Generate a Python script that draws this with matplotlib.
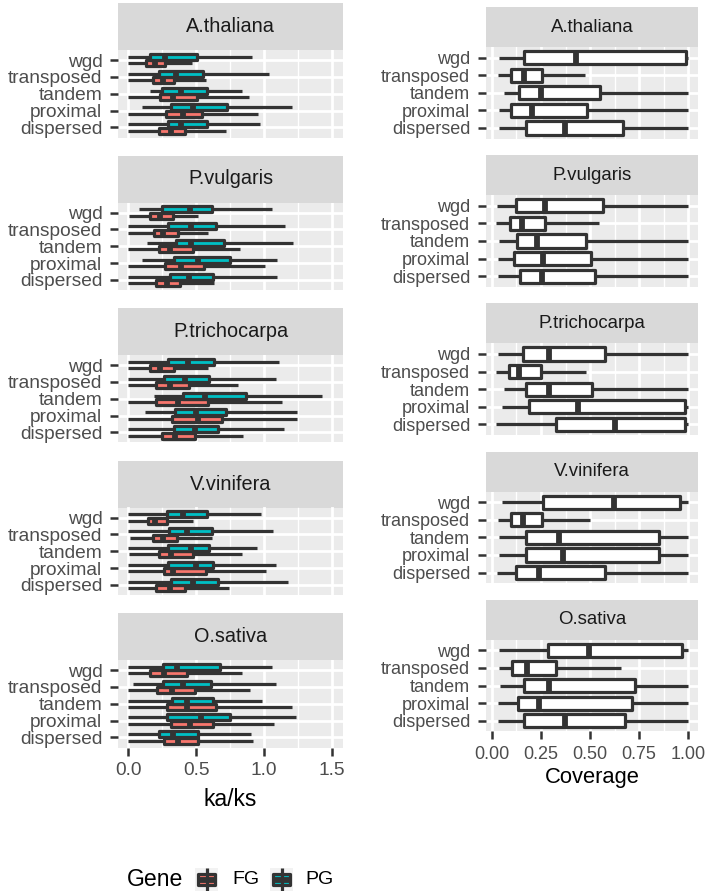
import matplotlib
matplotlib.use('Agg')
import matplotlib.pyplot as plt
from matplotlib.patches import Rectangle
from matplotlib.lines import Line2D
from matplotlib.ticker import MultipleLocator, FixedLocator

plt.rcParams['font.family'] = ['Liberation Sans', 'DejaVu Sans']

W, H = 708, 894
species = ['A.thaliana', 'P.vulgaris', 'P.trichocarpa', 'V.vinifera', 'O.sativa']
categories = ['wgd', 'transposed', 'tandem', 'proximal', 'dispersed']  # top to bottom
genes = ['FG', 'PG']
gene_colors = {'FG': '#F8766D', 'PG': '#00BFC4'}

# ---- ka/ks, PG (per species, categories top->bottom) ----
kk_pg_lo = [[0, 0, 0.159, 0.098, 0], [0.08, 0, 0.139, 0.098, 0], [0, 0, 0.188, 0.122, 0],
            [0, 0, 0, 0, 0], [0, 0.032, 0, 0, 0]]
kk_pg_q1 = [[0.161, 0.229, 0.249, 0.315, 0.29], [0.246, 0.29, 0.351, 0.339, 0.31],
            [0.29, 0.266, 0.4, 0.346, 0.334], [0.285, 0.302, 0.29, 0.29, 0.315],
            [0.259, 0.259, 0.32, 0.283, 0.229]]
kk_pg_med = [[0.268, 0.349, 0.39, 0.48, 0.39], [0.451, 0.463, 0.459, 0.517, 0.444],
             [0.44, 0.415, 0.563, 0.498, 0.49], [0.402, 0.432, 0.459, 0.5, 0.473],
             [0.361, 0.405, 0.429, 0.532, 0.332]]
kk_pg_q3 = [[0.507, 0.551, 0.576, 0.729, 0.58], [0.62, 0.644, 0.705, 0.746, 0.625],
            [0.632, 0.595, 0.868, 0.717, 0.66], [0.583, 0.62, 0.595, 0.625, 0.66],
            [0.673, 0.612, 0.624, 0.746, 0.51]]
kk_pg_hi = [[0.907, 1.037, 0.834, 1.207, 0.968], [1.056, 1.151, 1.212, 1.093, 1.098],
            [1.11, 1.09, 1.427, 1.239, 1.146], [0.976, 1.068, 0.944, 1.085, 1.176],
            [1.056, 1.085, 0.983, 1.232, 0.902]]

# ---- ka/ks, FG ----
kk_fg_lo = [[0, 0, 0, 0, 0], [0.007, 0, 0, 0, 0], [0, 0, 0, 0, 0],
            [0, 0.012, 0.007, 0, 0], [0, 0, 0, 0, 0]]
kk_fg_q1 = [[0.13, 0.185, 0.234, 0.278, 0.229], [0.163, 0.188, 0.229, 0.273, 0.205],
            [0.163, 0.205, 0.205, 0.32, 0.246], [0.144, 0.18, 0.224, 0.261, 0.205],
            [0.163, 0.215, 0.283, 0.315, 0.266]]
kk_fg_med = [[0.195, 0.256, 0.329, 0.405, 0.317], [0.232, 0.256, 0.31, 0.39, 0.285],
             [0.237, 0.31, 0.368, 0.51, 0.344], [0.195, 0.256, 0.317, 0.329, 0.305],
             [0.261, 0.322, 0.434, 0.454, 0.368]]
kk_fg_q3 = [[0.27, 0.34, 0.507, 0.546, 0.42], [0.33, 0.37, 0.48, 0.56, 0.38],
            [0.34, 0.45, 0.588, 0.693, 0.49], [0.285, 0.36, 0.48, 0.57, 0.42],
            [0.43, 0.49, 0.649, 0.624, 0.51]]
kk_fg_hi = [[0.47, 0.573, 0.89, 0.956, 0.72], [0.512, 0.585, 0.822, 1.007, 0.634],
            [0.585, 0.81, 1.134, 1.244, 0.846], [0.48, 0.615, 0.834, 1.017, 0.744],
            [0.834, 0.898, 1.207, 1.073, 0.92]]

# ---- coverage ----
cov_lo = [[0.037, 0.029, 0.06, 0.037, 0.037], [0.026, 0.022, 0.037, 0.031, 0.031],
          [0.031, 0.02, 0.06, 0.051, 0.022], [0.051, 0.031, 0.037, 0.037, 0.026],
          [0.034, 0.034, 0.039, 0.031, 0.031]]
cov_q1 = [[0.163, 0.097, 0.138, 0.095, 0.172], [0.122, 0.092, 0.126, 0.114, 0.143],
          [0.16, 0.088, 0.173, 0.189, 0.325], [0.262, 0.095, 0.172, 0.172, 0.121],
          [0.284, 0.104, 0.163, 0.134, 0.165]]
cov_med = [[0.43, 0.162, 0.252, 0.204, 0.374], [0.269, 0.153, 0.231, 0.259, 0.255],
           [0.289, 0.139, 0.289, 0.437, 0.629], [0.621, 0.156, 0.34, 0.362, 0.238],
           [0.493, 0.179, 0.293, 0.241, 0.371]]
cov_q3 = [[0.988, 0.253, 0.549, 0.486, 0.668], [0.566, 0.27, 0.478, 0.507, 0.525],
          [0.575, 0.252, 0.508, 0.985, 0.985], [0.957, 0.253, 0.852, 0.852, 0.577],
          [0.968, 0.325, 0.728, 0.716, 0.678]]
cov_hi = [[1, 0.473, 1, 1, 1], [1, 0.544, 1, 1, 1], [1, 0.481, 1, 1, 1],
          [1, 0.498, 1, 1, 1], [1, 0.66, 1, 1, 1]]

kk_ticks = [0.0, 0.5, 1.0, 1.5]
kk_ticklabels = ['0.0', '0.5', '1.0', '1.5']
cov_ticks = [0.0, 0.25, 0.5, 0.75, 1.0]
cov_ticklabels = ['0.00', '0.25', '0.50', '0.75', '1.00']

DARK = '#333333'
PANEL = '#EBEBEB'
STRIP = '#D9D9D9'
TXT = '#4D4D4D'
LW = 2.3
MLW = 4.2

fig = plt.figure(figsize=(W / 100, H / 100), dpi=100)


def rect(x0, y0, w, h):
    return [x0 / W, 1 - (y0 + h) / H, w / W, h / H]


def stats(lo, q1, med, q3, hi, i, k):
    return dict(whislo=lo[i][k], q1=q1[i][k], med=med[i][k], q3=q3[i][k], whishi=hi[i][k])


def style_panel(ax, xlim, major, minor_step, fs, bottom, ticklabels):
    ax.set_facecolor(PANEL)
    for s in ax.spines.values():
        s.set_visible(False)
    ax.set_xlim(*xlim)
    ax.set_ylim(0.4, 5.6)
    ax.xaxis.set_major_locator(FixedLocator(major))
    ax.xaxis.set_minor_locator(MultipleLocator(minor_step))
    ax.set_yticks([5 - k for k in range(len(categories))])
    ax.set_yticklabels(categories, fontsize=fs, color=TXT)
    ax.set_axisbelow(True)
    ax.grid(which='major', color='white', linewidth=2.0)
    ax.grid(which='minor', axis='x', color='white', linewidth=1.0)
    ax.tick_params(axis='both', which='major', length=5.8, width=1.8, color=DARK, pad=5.5)
    ax.tick_params(which='minor', length=0)
    if bottom:
        ax.set_xticklabels(ticklabels, fontsize=fs, color=TXT)
        ax.tick_params(axis='x', pad=4.5)
    else:
        ax.tick_params(axis='x', length=0, labelbottom=False)


def strip(x0, y0, w, h, label, fs):
    sa = fig.add_axes(rect(x0, y0, w, h))
    sa.set_facecolor(STRIP)
    for s in sa.spines.values():
        s.set_visible(False)
    sa.set_xticks([]); sa.set_yticks([])
    sa.text(0.5, 0.5, label, ha='center', va='center', fontsize=fs, color='#1A1A1A',
            transform=sa.transAxes)


# ---------------- left column: ka/ks ----------------
LX, LWID = 118, 225
for i, sp in enumerate(species):
    top = 3 + 152.5 * i
    strip(LX, top, LWID, 47, sp, 14.3)
    ax = fig.add_axes(rect(LX, top + 47, LWID, 87.5))
    for g, off, arrs in [('FG', -0.1875, (kk_fg_lo, kk_fg_q1, kk_fg_med, kk_fg_q3, kk_fg_hi)),
                         ('PG', 0.1875, (kk_pg_lo, kk_pg_q1, kk_pg_med, kk_pg_q3, kk_pg_hi))]:
        st = [stats(*arrs, i, k) for k in range(len(categories))]
        pos = [5 - k + off for k in range(len(categories))]
        ax.bxp(st, positions=pos, widths=0.36, orientation='horizontal', patch_artist=True,
               showfliers=False, showcaps=False, manage_ticks=False,
               boxprops=dict(facecolor=gene_colors[g], edgecolor=DARK, linewidth=LW,
                             joinstyle='round'),
               medianprops=dict(color=DARK, linewidth=MLW, solid_capstyle='butt'),
               whiskerprops=dict(color=DARK, linewidth=LW, solid_capstyle='butt'))
    style_panel(ax, (-0.075, 1.58), kk_ticks, 0.25, 13.8, i == len(species) - 1, kk_ticklabels)

fig.text((LX + LWID / 2) / W, 1 - 800 / H, 'ka/ks', ha='center', va='center', fontsize=16.6,
         color='black')

# ---------------- right column: coverage ----------------
RX, RW = 486, 212
for i, sp in enumerate(species):
    top = 7 + 148.2 * i
    strip(RX, top, RW, 40, sp, 13.4)
    ax = fig.add_axes(rect(RX, top + 40, RW, 91.5))
    st = [stats(cov_lo, cov_q1, cov_med, cov_q3, cov_hi, i, k) for k in range(len(categories))]
    pos = [5 - k for k in range(len(categories))]
    ax.bxp(st, positions=pos, widths=0.75, orientation='horizontal', patch_artist=True,
           showfliers=False, showcaps=False, manage_ticks=False,
           boxprops=dict(facecolor='white', edgecolor=DARK, linewidth=LW, joinstyle='round'),
           medianprops=dict(color=DARK, linewidth=MLW, solid_capstyle='butt'),
           whiskerprops=dict(color=DARK, linewidth=LW, solid_capstyle='butt'))
    style_panel(ax, (-0.03, 1.05), cov_ticks, 0.125, 13.0, i == len(species) - 1, cov_ticklabels)

fig.text((RX + RW / 2) / W, 1 - 778 / H, 'Coverage', ha='center', va='center', fontsize=15.8,
         color='black')

# ---------------- legend ----------------
ly = 879.5
fig.text(127 / W, 1 - ly / H, 'Gene', ha='left', va='center', fontsize=16.6, color='black')
for g, kx, tx in [('FG', 195, 232), ('PG', 270, 305)]:
    ka = fig.add_axes(rect(kx, ly - 11.5, 23, 23))
    ka.set_xlim(0, 1); ka.set_ylim(0, 1)
    ka.set_facecolor('#F2F2F2')
    for s in ka.spines.values():
        s.set_visible(False)
    ka.set_xticks([]); ka.set_yticks([])
    ka.add_line(Line2D([0.5, 0.5], [0.0, 1.0], color=DARK, linewidth=LW,
                       solid_capstyle='butt'))
    ka.add_patch(Rectangle((0.12, 0.25), 0.76, 0.5, facecolor=gene_colors[g], edgecolor=DARK,
                           linewidth=LW, joinstyle='round'))
    ka.add_line(Line2D([0.12, 0.88], [0.5, 0.5], color=DARK, linewidth=MLW,
                       solid_capstyle='butt'))
    fig.text(tx / W, 1 - ly / H, g, ha='left', va='center', fontsize=14, color='black')

fig.savefig('out.png', dpi=100)
